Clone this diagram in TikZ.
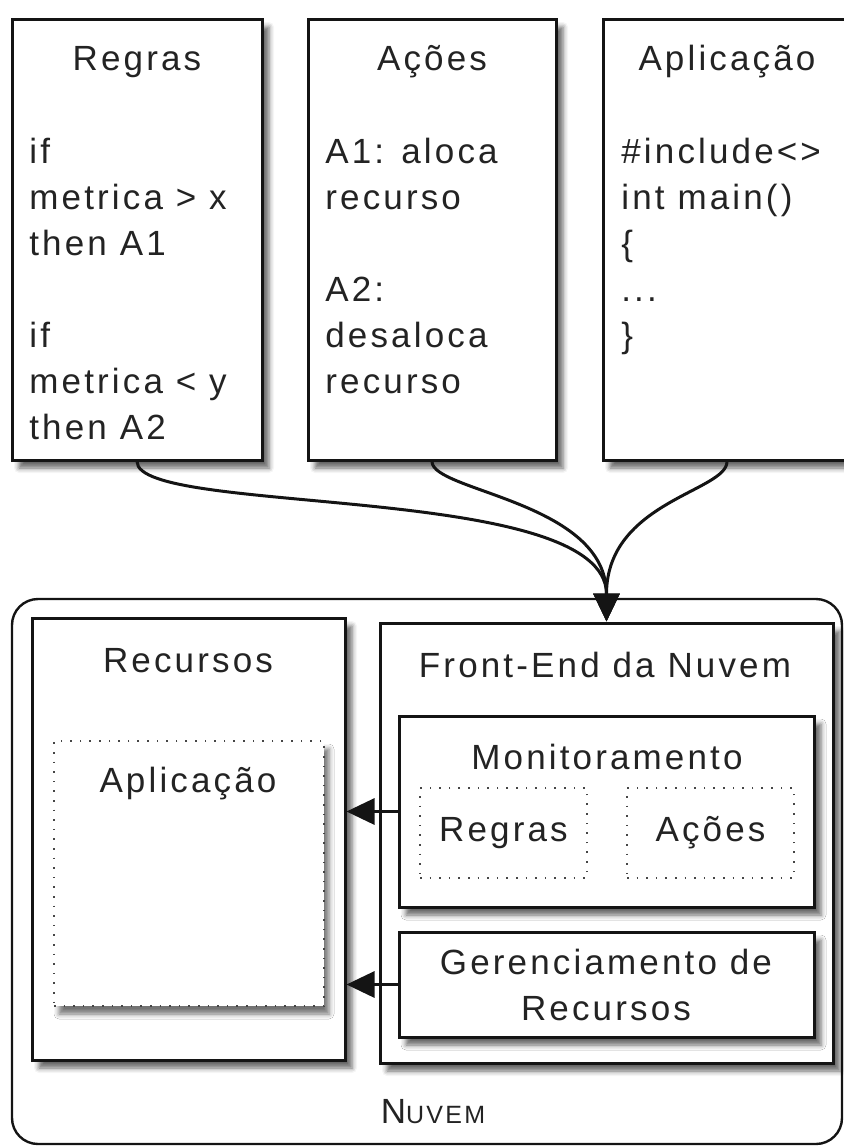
\documentclass[tikz,border=0pt]{standalone}
\usepackage{fontspec}
\setmainfont{Liberation Sans}[LetterSpace=9.0]
\usetikzlibrary{positioning,fit,arrows.meta,shadows,shadows.blur}
\definecolor{nuvemtext}{RGB}{35,35,35}
\definecolor{nuvemline}{RGB}{20,20,20}
\definecolor{nuvemdots}{RGB}{70,70,70}

\begin{document}
\begin{tikzpicture}[x=0.5pt,y=-0.5pt,
    font=\fontsize{17.5}{23}\selectfont, text=nuvemtext,
    box/.style={draw=nuvemline, line width=1.5pt, fill=white, inner sep=0pt,
        blur shadow={shadow xshift=3.5pt, shadow yshift=-4pt, shadow blur radius=2.5pt, shadow opacity=60}},
    dotbox/.style={draw=nuvemdots, line width=1.1pt, dash pattern=on 0.8pt off 4pt, inner sep=0pt},
    seta/.style={draw=nuvemline, line width=1.5pt, -{Triangle[length=14pt,width=13pt]}}]
    \useasboundingbox (0,0) rectangle (844,1147);

    % Top boxes
    \node[box, fit={(12,19) (262,460)}] (regras) {};
    \node[box, fit={(308,19) (556,460)}] (acoes) {};
    \node[box, fit={(603,19) (851,460)}] (aplic) {};

    \node (regrastit) at (137,62) {Regras};
    \node (acoestit) at (432,62) {Ações};
    \node (aplictit) at (727,62) {Aplicação};

    \node[anchor=north west, align=left, inner sep=0pt] (regrastxt) at (29,138)
        {if\\metrica > x\\then A1\\[23pt]if\\metrica < y\\then A2};
    \node[anchor=north west, align=left, inner sep=0pt] (acoestxt) at (325,138)
        {A1: aloca\\recurso\\[23pt]A2:\\desaloca\\recurso};
    \node[anchor=north west, align=left, inner sep=0pt] (aplictxt) at (621,138)
        {\#include<>\\int main()\\\{\\...\\\}};

    % Cloud
    \node[draw=nuvemline, line width=1.2pt, rounded corners=13pt, inner sep=0pt,
        fit={(12,599) (842,1144)}] (nuvem) {};
    \node[box, fit={(32,618) (345,1060)}] (recursos) {};
    \node[box, fit={(380,623) (833,1063)}] (frontend) {};
    \node[box, fit={(399,716) (814,907)}] (monit) {};
    \node[box, fit={(399,932) (814,1037)}] (gerenc) {};
    \node[dotbox, fill=white,
        blur shadow={shadow xshift=2.5pt, shadow yshift=-4pt, shadow blur radius=2.5pt, shadow opacity=55},
        fit={(54,741) (324,1006)}] (app) {};
    \node[dotbox, fit={(420,788) (587,878)}] (mregras) {};
    \node[dotbox, fit={(627,788) (794,878)}] (macoes) {};

    \node (recursostit) at (188,661) {Recursos};
    \node (frontendtit) at (605,665) {Front-End da Nuvem};
    \node (apptit) at (188,784) {Aplicação};
    \node (monittit) at (607,757) {Monitoramento};
    \node at (mregras) {Regras};
    \node at (macoes) {Ações};
    \node[align=center] (gerenctit) at (606,985) {Gerenciamento de\\Recursos};
    \node (nuvemtit) at (433,1112) {N\fontsize{12.5}{15}\selectfont UVEM};

    % Connectors
    \draw[seta] (regras.south) .. controls +(0,55) and +(0,-140) .. (frontend.north);
    \draw[seta] (acoes.south) .. controls +(0,30) and +(0,-120) .. (frontend.north);
    \draw[seta] (aplic.south) .. controls +(0,30) and +(0,-120) .. (frontend.north);
    \draw[seta] (monit.west) -- (monit.west -| recursos.east);
    \draw[seta] (gerenc.west) -- (gerenc.west -| recursos.east);
\end{tikzpicture}
\end{document}
